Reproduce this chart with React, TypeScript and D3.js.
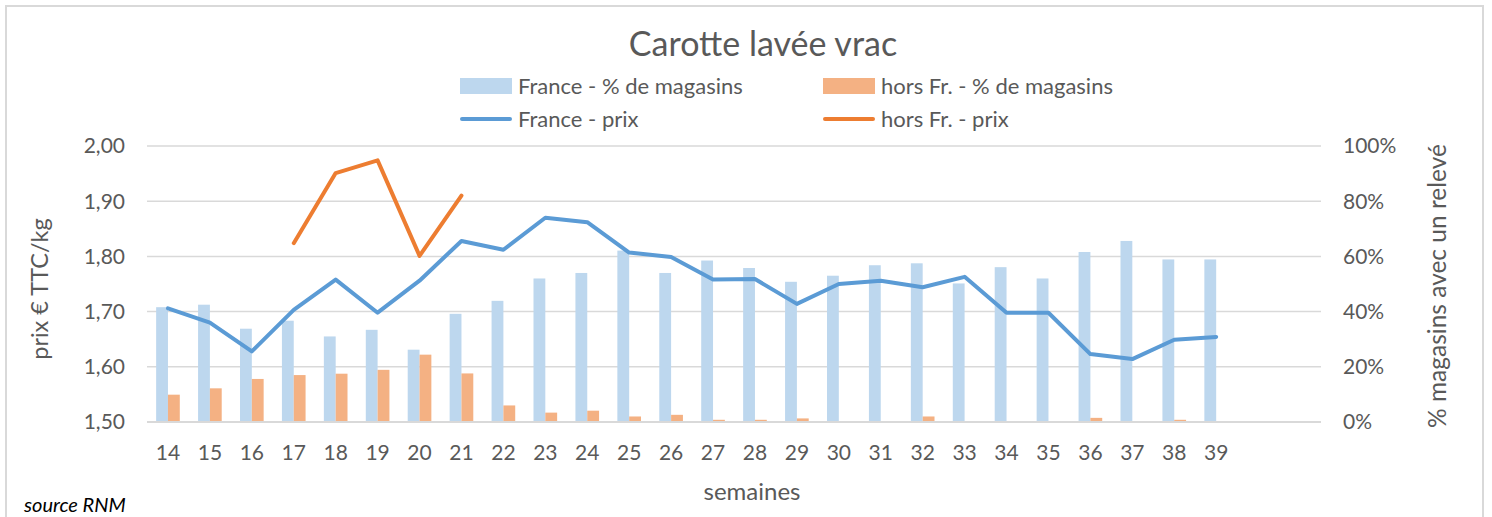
import React, { useEffect, useRef } from "react";
import * as d3 from "d3";

// semaines (the two last slots of the axis are empty in the source chart)
const weeks = [14, 15, 16, 17, 18, 19, 20, 21, 22, 23, 24, 25, 26, 27, 28, 29, 30, 31, 32, 33, 34, 35, 36, 37, 38, 39];
const emptyWeeks = [40, 41];

// % de magasins avec un relevé
const franceShare = [41.6, 42.5, 33.8, 36.7, 31.0, 33.4, 26.2, 39.2, 43.9, 52.0, 54.0, 62.1, 54.0, 58.5, 55.8, 50.8, 53.0, 56.8, 57.5, 50.2, 56.1, 52.0, 61.6, 65.6, 58.9, 58.9];
const horsShare = [9.9, 12.2, 15.6, 17.0, 17.5, 18.9, 24.4, 17.6, 6.0, 3.4, 4.1, 2.0, 2.6, 0.8, 0.8, 1.3, 0, 0, 2.0, 0, 0, 0, 1.5, 0, 0.8, 0];

// prix € TTC/kg
const francePrice = [1.706, 1.68, 1.628, 1.703, 1.758, 1.698, 1.756, 1.828, 1.812, 1.87, 1.862, 1.807, 1.799, 1.758, 1.759, 1.714, 1.75, 1.756, 1.744, 1.763, 1.698, 1.698, 1.623, 1.614, 1.649, 1.654];
const horsPrice = [null, null, null, 1.824, 1.951, 1.974, 1.801, 1.91, null, null, null, null, null, null, null, null, null, null, null, null, null, null, null, null, null, null];

const priceTicks = [1.5, 1.6, 1.7, 1.8, 1.9, 2.0];
const shareTicks = [0, 20, 40, 60, 80, 100];

const FONT = "Lato, 'Open Sans', sans-serif";
const TEXT = "#595959";
const GRID = "#d9d9d9";
const C_FR_BAR = "#bdd7ee";
const C_HF_BAR = "#f4b183";
const C_FR_LINE = "#5b9bd5";
const C_HF_LINE = "#ed7d31";

const App = () => {
    const ref = useRef<SVGSVGElement>(null);

    useEffect(() => {
        const svg = d3.select(ref.current);
        svg.selectAll("*").remove();

        const width = 1492;
        const height = 517;
        const plot = { left: 147, right: 1321, top: 146, bottom: 422 };

        svg.attr("width", width).attr("height", height);

        // chart frame
        svg.append("rect")
            .attr("x", 6).attr("y", 6)
            .attr("width", 1477).attr("height", 530)
            .attr("fill", "#fff")
            .attr("stroke", GRID)
            .attr("stroke-width", 2);

        const x = d3.scaleBand<number>()
            .domain([...weeks, ...emptyWeeks])
            .range([plot.left, plot.right]);

        const yPrice = d3.scaleLinear().domain([1.5, 2.0]).range([plot.bottom, plot.top]);
        const yShare = d3.scaleLinear().domain([0, 100]).range([plot.bottom, plot.top]);

        // gridlines
        svg.append("g")
            .selectAll("line")
            .data(priceTicks)
            .join("line")
            .attr("x1", plot.left).attr("x2", plot.right)
            .attr("y1", (d) => yPrice(d)).attr("y2", (d) => yPrice(d))
            .attr("stroke", GRID)
            .attr("stroke-width", 1.5);

        // bars
        const bw = x.bandwidth() * 0.282;
        const bars = svg.append("g");
        bars.selectAll("rect.fr")
            .data(weeks)
            .join("rect")
            .attr("class", "fr")
            .attr("x", (d) => x(d)! + x.bandwidth() / 2 - bw)
            .attr("y", (d, i) => yShare(franceShare[i]))
            .attr("width", bw)
            .attr("height", (d, i) => plot.bottom - yShare(franceShare[i]))
            .attr("fill", C_FR_BAR);
        bars.selectAll("rect.hf")
            .data(weeks)
            .join("rect")
            .attr("class", "hf")
            .attr("x", (d) => x(d)! + x.bandwidth() / 2)
            .attr("y", (d, i) => yShare(horsShare[i]))
            .attr("width", bw)
            .attr("height", (d, i) => plot.bottom - yShare(horsShare[i]))
            .attr("fill", C_HF_BAR);

        // x axis line
        svg.append("line")
            .attr("x1", plot.left).attr("x2", plot.right)
            .attr("y1", plot.bottom).attr("y2", plot.bottom)
            .attr("stroke", GRID)
            .attr("stroke-width", 2);

        // lines
        const cx = (w: number) => x(w)! + x.bandwidth() / 2;
        const line = d3.line<number | null>()
            .defined((d) => d !== null)
            .x((d, i) => cx(weeks[i]))
            .y((d) => yPrice(d as number));

        svg.append("path")
            .attr("d", line(francePrice))
            .attr("fill", "none")
            .attr("stroke", C_FR_LINE)
            .attr("stroke-width", 4)
            .attr("stroke-linejoin", "round")
            .attr("stroke-linecap", "round");
        svg.append("path")
            .attr("d", line(horsPrice))
            .attr("fill", "none")
            .attr("stroke", C_HF_LINE)
            .attr("stroke-width", 4)
            .attr("stroke-linejoin", "round")
            .attr("stroke-linecap", "round");

        const txt = (sel: any) => sel.attr("font-family", FONT).attr("fill", TEXT);

        // left axis labels
        svg.append("g")
            .selectAll("text")
            .data(priceTicks)
            .join("text")
            .call(txt)
            .attr("x", 125)
            .attr("y", (d) => yPrice(d))
            .attr("dy", "0.35em")
            .attr("text-anchor", "end")
            .attr("font-size", 21)
            .text((d) => d3.format(".2f")(d).replace(".", ","));

        // right axis labels
        svg.append("g")
            .selectAll("text")
            .data(shareTicks)
            .join("text")
            .call(txt)
            .attr("x", 1343)
            .attr("y", (d) => yShare(d))
            .attr("dy", "0.35em")
            .attr("font-size", 21)
            .text((d) => d + "%");

        // x axis labels
        svg.append("g")
            .selectAll("text")
            .data(weeks)
            .join("text")
            .call(txt)
            .attr("x", (d) => cx(d))
            .attr("y", 453)
            .attr("dy", "0.35em")
            .attr("text-anchor", "middle")
            .attr("font-size", 21)
            .text((d) => d);

        // titles
        svg.append("text").call(txt)
            .attr("x", 763).attr("y", 56)
            .attr("text-anchor", "middle")
            .attr("font-size", 34)
            .text("Carotte lavée vrac");

        svg.append("text").call(txt)
            .attr("x", 752).attr("y", 492)
            .attr("dy", "0.35em")
            .attr("text-anchor", "middle")
            .attr("font-size", 24)
            .text("semaines");

        svg.append("text").call(txt)
            .attr("transform", "translate(40,289) rotate(-90)")
            .attr("dy", "0.35em")
            .attr("text-anchor", "middle")
            .attr("font-size", 23.5)
            .text("prix € TTC/kg");

        svg.append("text").call(txt)
            .attr("transform", "translate(1437,286) rotate(-90)")
            .attr("dy", "0.35em")
            .attr("text-anchor", "middle")
            .attr("font-size", 24.5)
            .text("% magasins avec un relevé");

        svg.append("text")
            .attr("font-family", FONT)
            .attr("fill", "#000")
            .attr("font-style", "italic")
            .attr("x", 24).attr("y", 505)
            .attr("dy", "0.35em")
            .attr("font-size", 20)
            .text("source RNM");

        // legend
        const legend = [
            { label: "France - % de magasins", kind: "bar", color: C_FR_BAR, x: 460, y: 86 },
            { label: "hors Fr. - % de magasins", kind: "bar", color: C_HF_BAR, x: 823, y: 86 },
            { label: "France - prix", kind: "line", color: C_FR_LINE, x: 460, y: 119 },
            { label: "hors Fr. - prix", kind: "line", color: C_HF_LINE, x: 823, y: 119 },
        ];
        const lg = svg.append("g").selectAll("g").data(legend).join("g")
            .attr("transform", (d) => `translate(${d.x},${d.y})`);
        lg.filter((d) => d.kind === "bar")
            .append("rect")
            .attr("x", 0).attr("y", -8)
            .attr("width", 52).attr("height", 16)
            .attr("fill", (d) => d.color);
        lg.filter((d) => d.kind === "line")
            .append("line")
            .attr("x1", 2).attr("x2", 50)
            .attr("stroke", (d) => d.color)
            .attr("stroke-width", 4)
            .attr("stroke-linecap", "round");
        lg.append("text").call(txt)
            .attr("x", 58)
            .attr("dy", "0.35em")
            .attr("font-size", 22)
            .text((d) => d.label);
    }, []);

    return (
        <svg ref={ref} style={{ position: "absolute", left: 0, top: 0 }}></svg>
    );
};

export default App;
